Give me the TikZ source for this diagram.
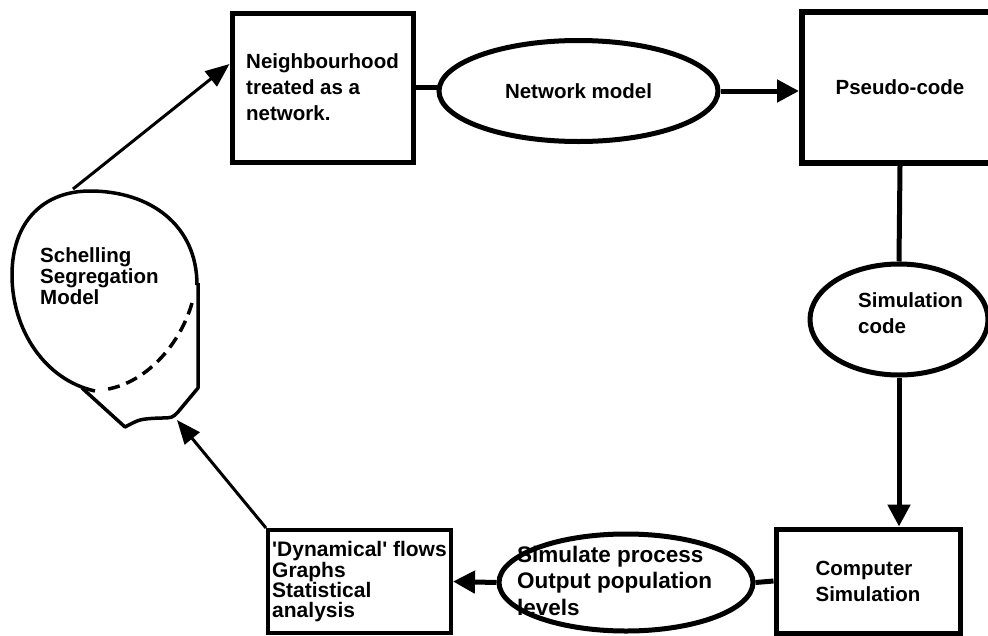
\documentclass[tikz,border=0pt]{standalone}
\usepackage{fontspec}
\newfontfamily\labelfont{Liberation Sans}
\usetikzlibrary{shapes.geometric,arrows.meta}
\newcommand\lblfont[2]{\labelfont\bfseries\fontsize{#1}{#2}\selectfont}

\begin{document}
\begin{tikzpicture}[x=1pt, y=-1pt,
    every node/.style={font=\lblfont{20.5}{26}, align=left, inner sep=0pt},
    box/.style={draw, rectangle, line width=5pt},
    oval/.style={draw, ellipse, line width=5pt},
    link/.style={line width=5pt},
    flow/.style={line width=5pt, -{Triangle[length=22pt, width=22pt]}},
    thin flow/.style={line width=3pt, -{Triangle[length=24pt, width=19pt]}},
    blob/.style={line width=3.5pt, line join=round}]
  \useasboundingbox (0,0) rectangle (988,635);
  \clip (0,0) rectangle (988,635);

  % top row
  \node [box, minimum width=181pt, minimum height=149pt] (nbh) at (322.5,87.5)
    {Neighbourhood\\treated as a\\network.};
  \node [oval, minimum width=279pt, minimum height=101pt] (netm) at (578.5,91)
    {Network model};
  \node [box, line width=6pt, minimum width=196pt, minimum height=151pt] (pseudo) at (900,87.5)
    {Pseudo-code};

  % right column
  \node [oval, minimum width=178pt, minimum height=111pt] (simcode) at (899,319.5) {};
  \node [anchor=west] (simcodetxt) at (858,313.5) {Simulation\\code};
  \node [box, minimum width=184pt, minimum height=104pt] (compsim) at (868,581)
    {Computer\\Simulation};

  % bottom row
  \node [oval, minimum width=254pt, minimum height=97pt] (simproc) at (626,582.5) {};
  \node [anchor=west, font=\lblfont{22.5}{26.5}] (simproctxt) at (517,580.5)
    {Simulate process\\Output population\\levels};
  \node [box, line width=4pt, minimum width=183pt, minimum height=103pt,
         font=\lblfont{21}{19.5}] (dyn) at (359.5,581.5)
    {'Dynamical' flows\\Graphs\\Statistical\\analysis};

  % the model itself, drawn as a pot
  \draw [blob] (95,391) .. controls (45,380) and (12,330) .. (12,275)
    .. controls (12,220) and (45,191) .. (90,191)
    .. controls (150,191) and (197,225) .. (197,285);
  \draw [blob, dash pattern=on 12pt off 7pt] (192,303) .. controls (180,345) and (145,385) .. (102,390);
  \draw [blob] (198,283) -- (198,388) -- (178,412) .. controls (172,418) .. (160,418)
    .. controls (140,419) .. (125,427) -- (82,388);
  \node [anchor=west, font=\lblfont{20.5}{21}] (schtxt) at (40,276)
    {Schelling\\Segregation\\Model};
  \coordinate (schtop) at (73,189);
  \coordinate (schfoot) at (177,420);

  % connectors
  \draw [link] (nbh.east) -- (nbh.east -| netm.west);
  \draw [flow] (netm.east) -- (netm.east -| pseudo.west);
  \draw [link] (pseudo.south) -- (simcode.north);
  \draw [flow] (simcode.south) -- (simcode.south |- compsim.north);
  \draw [link] (compsim.west) -- (simproc.east);
  \draw [flow] (simproc.west) -- (dyn.east);
  \draw [thin flow] (dyn.north west) -- (schfoot);
  \draw [thin flow] (schtop) -- ([yshift=23.5pt]nbh.west);
\end{tikzpicture}
\end{document}
